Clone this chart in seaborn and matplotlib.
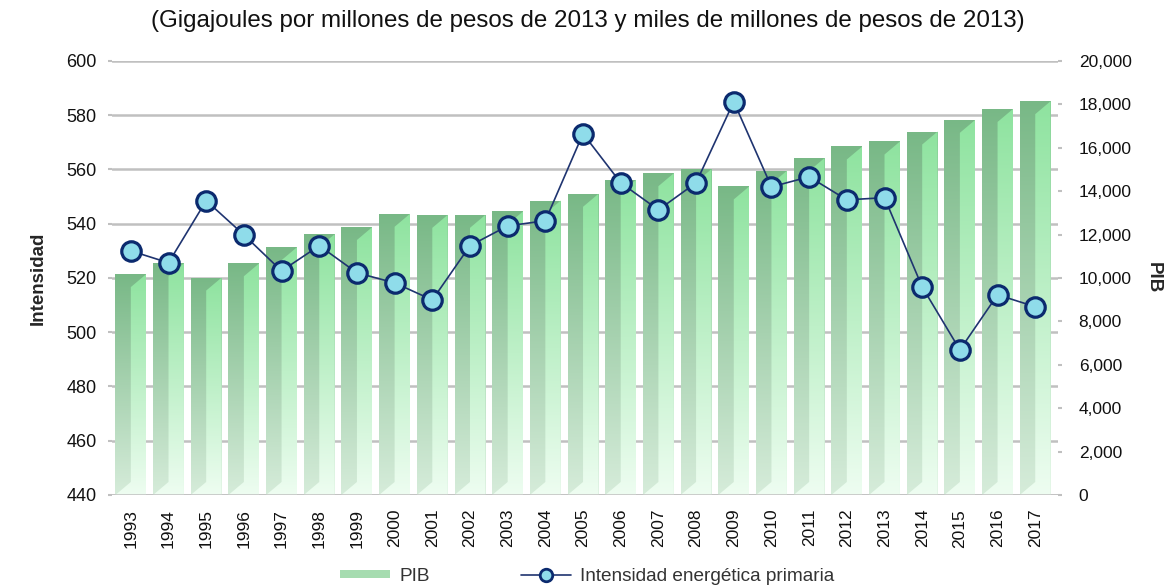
import numpy as np
import pandas as pd
import matplotlib
matplotlib.use("Agg")
import matplotlib.pyplot as plt
import seaborn as sns
from matplotlib.patches import Polygon, Rectangle
from matplotlib.lines import Line2D
from matplotlib.colors import to_rgb

# datos
anios = [str(a) for a in range(1993, 2018)]
pib = [10180, 10680, 10020, 10680, 11420, 12020, 12350, 12960, 12910, 12910,
       13070, 13570, 13880, 14530, 14830, 15020, 14220, 14940, 15530, 16060,
       16290, 16750, 17290, 17790, 18150]
intensidad = [530.0, 525.6, 548.5, 535.9, 522.6, 531.9, 521.9, 518.2, 511.9, 531.9,
              539.2, 541.1, 573.2, 555.1, 545.1, 555.1, 585.0, 553.6, 557.3, 548.8,
              549.6, 516.7, 493.5, 513.8, 509.4]

df = pd.DataFrame({"anio": anios, "pib": pib, "intensidad": intensidad})
df["pos"] = np.arange(len(df))

sns.set_theme(style="white")
plt.rcParams["font.family"] = ["Liberation Sans", "DejaVu Sans"]

fig = plt.figure(figsize=(11.75, 5.88), dpi=100)
ax = fig.add_axes([0.0953, 0.1582, 0.805, 0.7381])
ax2 = ax.twinx()

# barras PIB (eje derecho)
sns.barplot(data=df, x="anio", y="pib", ax=ax2, width=0.82, color="#9fdcab",
            saturation=1, zorder=2)


def gradient(top, bottom, n=256):
    t = np.linspace(0, 1, n)[:, None]
    c0, c1 = np.array(to_rgb(bottom)), np.array(to_rgb(top))
    return (c0 + (c1 - c0) * t)[:, None, :]


g_dark = gradient("#78b886", "#d6ecda")
g_light = gradient("#8ee39f", "#eefdf1")
d = 600  # profundidad del bisel en unidades del eje

for p in list(ax2.patches):
    x0, w, h = p.get_x(), p.get_width(), p.get_height()
    xm = x0 + w * 0.5
    p.set_facecolor("none")
    p.set_edgecolor("none")
    im = ax2.imshow(g_dark, extent=[x0, x0 + w, 0, h], aspect="auto",
                    origin="lower", zorder=2, interpolation="bilinear")
    im.set_clip_path(p)
    poly = Polygon([(x0, 0), (x0 + w, 0), (x0 + w, h), (xm, h - d), (xm, d)],
                   closed=True, facecolor="none", edgecolor="none",
                   transform=ax2.transData)
    ax2.add_patch(poly)
    im2 = ax2.imshow(g_light, extent=[x0, x0 + w, 0, h], aspect="auto",
                     origin="lower", zorder=3, interpolation="bilinear")
    im2.set_clip_path(poly)

# linea intensidad (eje izquierdo, al frente)
sns.lineplot(data=df, x="pos", y="intensidad", ax=ax, color="#1f3470",
             linewidth=1.2, marker="o", markersize=14, markerfacecolor="#8fdcea",
             markeredgecolor="#0b2a6e", markeredgewidth=2.3, zorder=5)
ax.set_zorder(ax2.get_zorder() + 1)
ax.patch.set_visible(False)
ax2.patch.set_visible(True)
ax2.patch.set_facecolor("white")
fig.patch.set_facecolor("white")

left_ticks = np.arange(440, 601, 20)
ax.set_ylim(440, 600)
ax.set_yticks(left_ticks)
ax2.set_ylim(0, 20000)
ax2.set_yticks(np.arange(0, 20001, 2000))
ax2.yaxis.set_major_formatter(matplotlib.ticker.FuncFormatter(lambda v, _: f"{v:,.0f}"))
ax.set_xlim(-0.5, 24.6)
ax.set_xticks(df["pos"])
ax.set_xticklabels(anios, rotation=90)

# lineas de cuadricula alineadas con el eje izquierdo, detras de las barras
ax2.yaxis.remove_overlapping_locs = False
ax2.set_yticks((left_ticks - 440) / 160 * 20000, minor=True)
ax2.grid(axis="y", which="minor", color="#c0c0c0", linewidth=1.8)
ax2.grid(axis="y", which="major", visible=False)
ax2.tick_params(axis="y", which="minor", length=0)
ax2.set_axisbelow(True)
ax.grid(False)
# linea base
ax.axhline(440, color="#c0c0c0", linewidth=1.8, zorder=1)
for a in (ax, ax2):
    for s in a.spines.values():
        s.set_visible(False)
ax.tick_params(axis="y", which="major", left=True, length=3, width=1.5,
               color="#c0c0c0", labelsize=13, pad=8, labelcolor="#111111")
ax2.tick_params(axis="y", which="major", right=True, length=3, width=1.5,
                color="#c0c0c0", labelsize=12.5, pad=12, labelcolor="#111111")
ax.tick_params(axis="x", bottom=False, labelsize=12.5, pad=4, labelcolor="#111111")

ax.set_xlabel("")
ax.set_ylabel("Intensidad", fontsize=13.5, fontweight="bold", labelpad=14)
ax2.set_ylabel("PIB", fontsize=13.5, fontweight="bold", rotation=270, labelpad=22)

fig.text(0.5, 0.965, "(Gigajoules por millones de pesos de 2013 y miles de millones de pesos de 2013)",
         ha="center", va="center", fontsize=17.4, color="#111111")

handles = [
    Rectangle((0, 0), 1, 1, facecolor="#a6dcb0", edgecolor="none"),
    Line2D([0], [0], color="#1f3470", linewidth=1.2, marker="o", markersize=9,
           markerfacecolor="#8fdcea", markeredgecolor="#0b2a6e", markeredgewidth=2),
]
fig.legend(handles, ["PIB", "Intensidad energética primaria"], loc="center",
           bbox_to_anchor=(0.5, 0.02), ncol=2, frameon=False, fontsize=13.7,
           handlelength=2.6, handleheight=0.3, columnspacing=4.8, handletextpad=0.5,
           labelcolor="#333333")

fig.savefig("out.png", dpi=100, facecolor="white")
